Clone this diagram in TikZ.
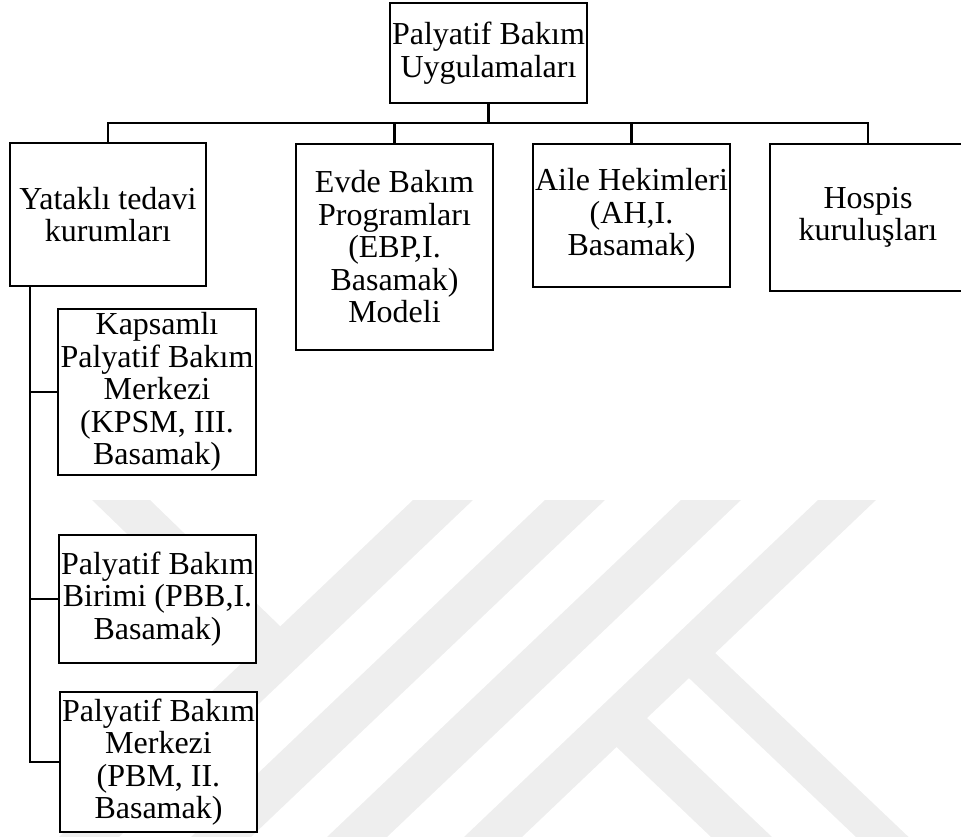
\documentclass[tikz,border=0pt]{standalone}
\usepackage{fontspec}
\setmainfont{Liberation Serif}
\definecolor{wm}{RGB}{238,238,238}
\tikzset{
  box/.style={draw, rectangle, line width=2.8pt, fill=white, inner sep=0pt,
    align=center, font=\fontsize{32}{32.5}\selectfont},
  link/.style={line width=2.6pt, line join=miter},
}
\begin{document}
\begin{tikzpicture}[x=1pt,y=-1pt]
\useasboundingbox (0,0) rectangle (961,837);
\clip (0,0) rectangle (961,837);

% faint background emblem (diagonal bands)
\fill[wm] (413,500) -- (473,500) -- (119,837) -- (59,837) -- cycle;
\fill[wm] (92,500) -- (150,500) -- (281,627) -- (281,683) -- cycle;
\fill[wm] (545,500) -- (605,500) -- (251,837) -- (191,837) -- cycle;
\fill[wm] (681,500) -- (741,500) -- (387,837) -- (327,837) -- cycle;
\fill[wm] (818,500) -- (876,500) -- (522,837) -- (464,837) -- cycle;
\fill[wm] (691,630) -- (908.6,837) -- (856,837) -- (670,660) -- cycle;
\fill[wm] (628,700) -- (772,837) -- (711,837) -- (598.7,730) -- cycle;

% boxes
\node[box, minimum width=197pt, minimum height=100pt] (top) at (488.5,53)
  {Palyatif Bakım\\Uygulamaları};
\node[box, minimum width=196pt, minimum height=143pt] (yat) at (108,214.5)
  {Yataklı tedavi\\kurumları};
\node[box, minimum width=197pt, minimum height=206pt] (evde) at (394.5,247)
  {Evde Bakım\\Programları\\(EBP,I.\\Basamak)\\Modeli};
\node[box, minimum width=197pt, minimum height=143pt] (aile) at (631.5,215.5)
  {Aile Hekimleri\\(AH,I.\\Basamak)};
\node[box, minimum width=196pt, minimum height=147pt] (hosp) at (868,217.5)
  {Hospis\\kuruluşları};
\node[box, minimum width=198pt, minimum height=166pt] (kap) at (157,392)
  {Kapsamlı\\Palyatif Bakım\\Merkezi\\(KPSM, III.\\Basamak)};
\node[box, minimum width=197pt, minimum height=128pt] (pbb) at (157.5,599)
  {Palyatif Bakım\\Birimi (PBB,I.\\Basamak)};
\node[box, minimum width=197pt, minimum height=140pt] (pbm) at (158.5,762)
  {Palyatif Bakım\\Merkezi\\(PBM, II.\\Basamak)};

% connectors
\coordinate (bar) at (0,123);
\coordinate (bus) at (30,0);
\draw[link] (top.south) -- (top.south |- bar);
\draw[link] (yat.north) -- (yat.north |- bar) -- (hosp.north |- bar) -- (hosp.north);
\draw[link] (evde.north |- bar) -- (evde.north);
\draw[link] (aile.north |- bar) -- (aile.north);
\draw[link] (bus |- yat.south) -- (bus |- pbm.west) -- (pbm.west);
\draw[link] (bus |- kap.west) -- (kap.west);
\draw[link] (bus |- pbb.west) -- (pbb.west);
\end{tikzpicture}
\end{document}
